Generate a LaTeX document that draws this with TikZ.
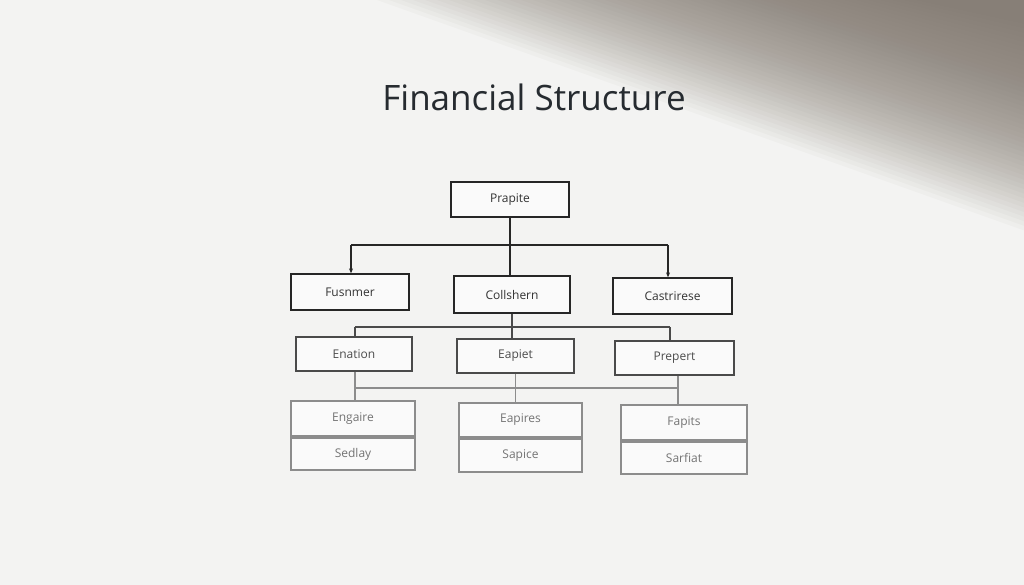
\documentclass[tikz,border=0pt]{standalone}
\usepackage{fontspec}
\setmainfont{Open Sans}
\usetikzlibrary{arrows.meta}
\definecolor{bgc}{HTML}{F3F3F2}
\definecolor{shadowc}{HTML}{7E746B}
\definecolor{titlec}{HTML}{262B30}
\definecolor{lineA}{HTML}{262626}
\definecolor{lineB}{HTML}{4A4A4A}
\definecolor{lineC}{HTML}{8C8C8C}
\tikzset{
  box/.style={draw=lineA, line width=1.3pt, fill=white!60!bgc, inner sep=0pt,
     minimum height=36pt, font=\fontsize{12}{14}\selectfont, text=black!80},
  boxB/.style={box, draw=lineB, line width=1.4pt, text=black!70},
  boxC/.style={box, draw=lineC, line width=2pt, text=black!55, minimum height=33pt},
  conA/.style={draw=lineA, line width=1.3pt},
  conB/.style={draw=lineB, line width=1.4pt},
  conC/.style={draw=lineC, line width=1.8pt},
  tip/.style={-{Stealth[length=5pt,width=4pt]}}
}
\begin{document}
\begin{tikzpicture}[x=1pt,y=-1pt]
\fill[bgc] (0,0) rectangle (1024,585);
\useasboundingbox (0,0) rectangle (1024,585);
% shadow in the upper right
\foreach \i in {1,...,46}{
  \fill[shadowc, opacity=0.04]
    ({365+\i*12},0) -- (1024,0) -- (1024,{235-\i*4.6}) -- cycle;
}
% title
\node[font=\fontsize{35}{40}\selectfont, text=titlec] (title) at (534,97) {Financial Structure};
% row 1
\node[box, minimum width=118pt, minimum height=35pt] (prapite) at (510,199.5) {Prapite};
% row 2
\node[box, minimum width=118pt] (fus) at (350,292) {Fusnmer};
\node[box, minimum width=116pt, minimum height=37pt] (col) at (512,294.5) {Collshern};
\node[box, minimum width=119pt] (cas) at (672.5,296) {Castrirese};
% row 3
\node[boxB, minimum width=116pt, minimum height=34pt] (ena) at (354,354) {Enation};
\node[boxB, minimum width=117pt, minimum height=34pt] (eap) at (515.5,356) {Eapiet};
\node[boxB, minimum width=119pt, minimum height=34pt] (pre) at (674.5,358) {Prepert};
% row 4
\node[boxC, minimum width=124pt, minimum height=35pt] (l1) at (353,418.5) {Engaire};
\node[boxC, minimum width=124pt, minimum height=32pt, anchor=north] (l2) at (l1.south) {Sedlay};
\node[boxC, minimum width=123pt, minimum height=34pt] (m1) at (520.5,420) {Eapires};
\node[boxC, minimum width=123pt, minimum height=33pt, anchor=north] (m2) at (m1.south) {Sapice};
\node[boxC, minimum width=126pt, minimum height=35pt] (r1) at (684,422.5) {Fapits};
\node[boxC, minimum width=126pt, minimum height=32pt, anchor=north] (r2) at (r1.south) {Sarfiat};
% connectors row 1 -> row 2
\coordinate (h1L) at (351,245);
\coordinate (h1R) at (668,245);
\draw[conA] (prapite.south) -- (prapite.south |- col.north);
\draw[conA] (h1L) -- (h1R);
\draw[conA, tip] (h1L) -- (h1L |- fus.north);
\draw[conA, tip] (h1R) -- (h1R |- cas.north);
% connectors row 2 -> row 3
\coordinate (h2L) at (355,327);
\coordinate (h2R) at (670,327);
\draw[conB] (col.south) -- (col.south |- eap.north);
\draw[conB] (h2L) -- (h2R);
\draw[conB] (h2L) -- (h2L |- ena.north);
\draw[conB] (h2R) -- (h2R |- pre.north);
% connectors row 3 -> row 4
\coordinate (h3L) at (355,388);
\coordinate (h3R) at (678,388);
\draw[conC] (h3L) -- (h3R);
\draw[conC] (ena.south -| h3L) -- (h3L |- l1.north);
\draw[conC] (eap.south) -- (eap.south |- m1.north);
\draw[conC] (pre.south -| h3R) -- (h3R |- r1.north);
\end{tikzpicture}
\end{document}
